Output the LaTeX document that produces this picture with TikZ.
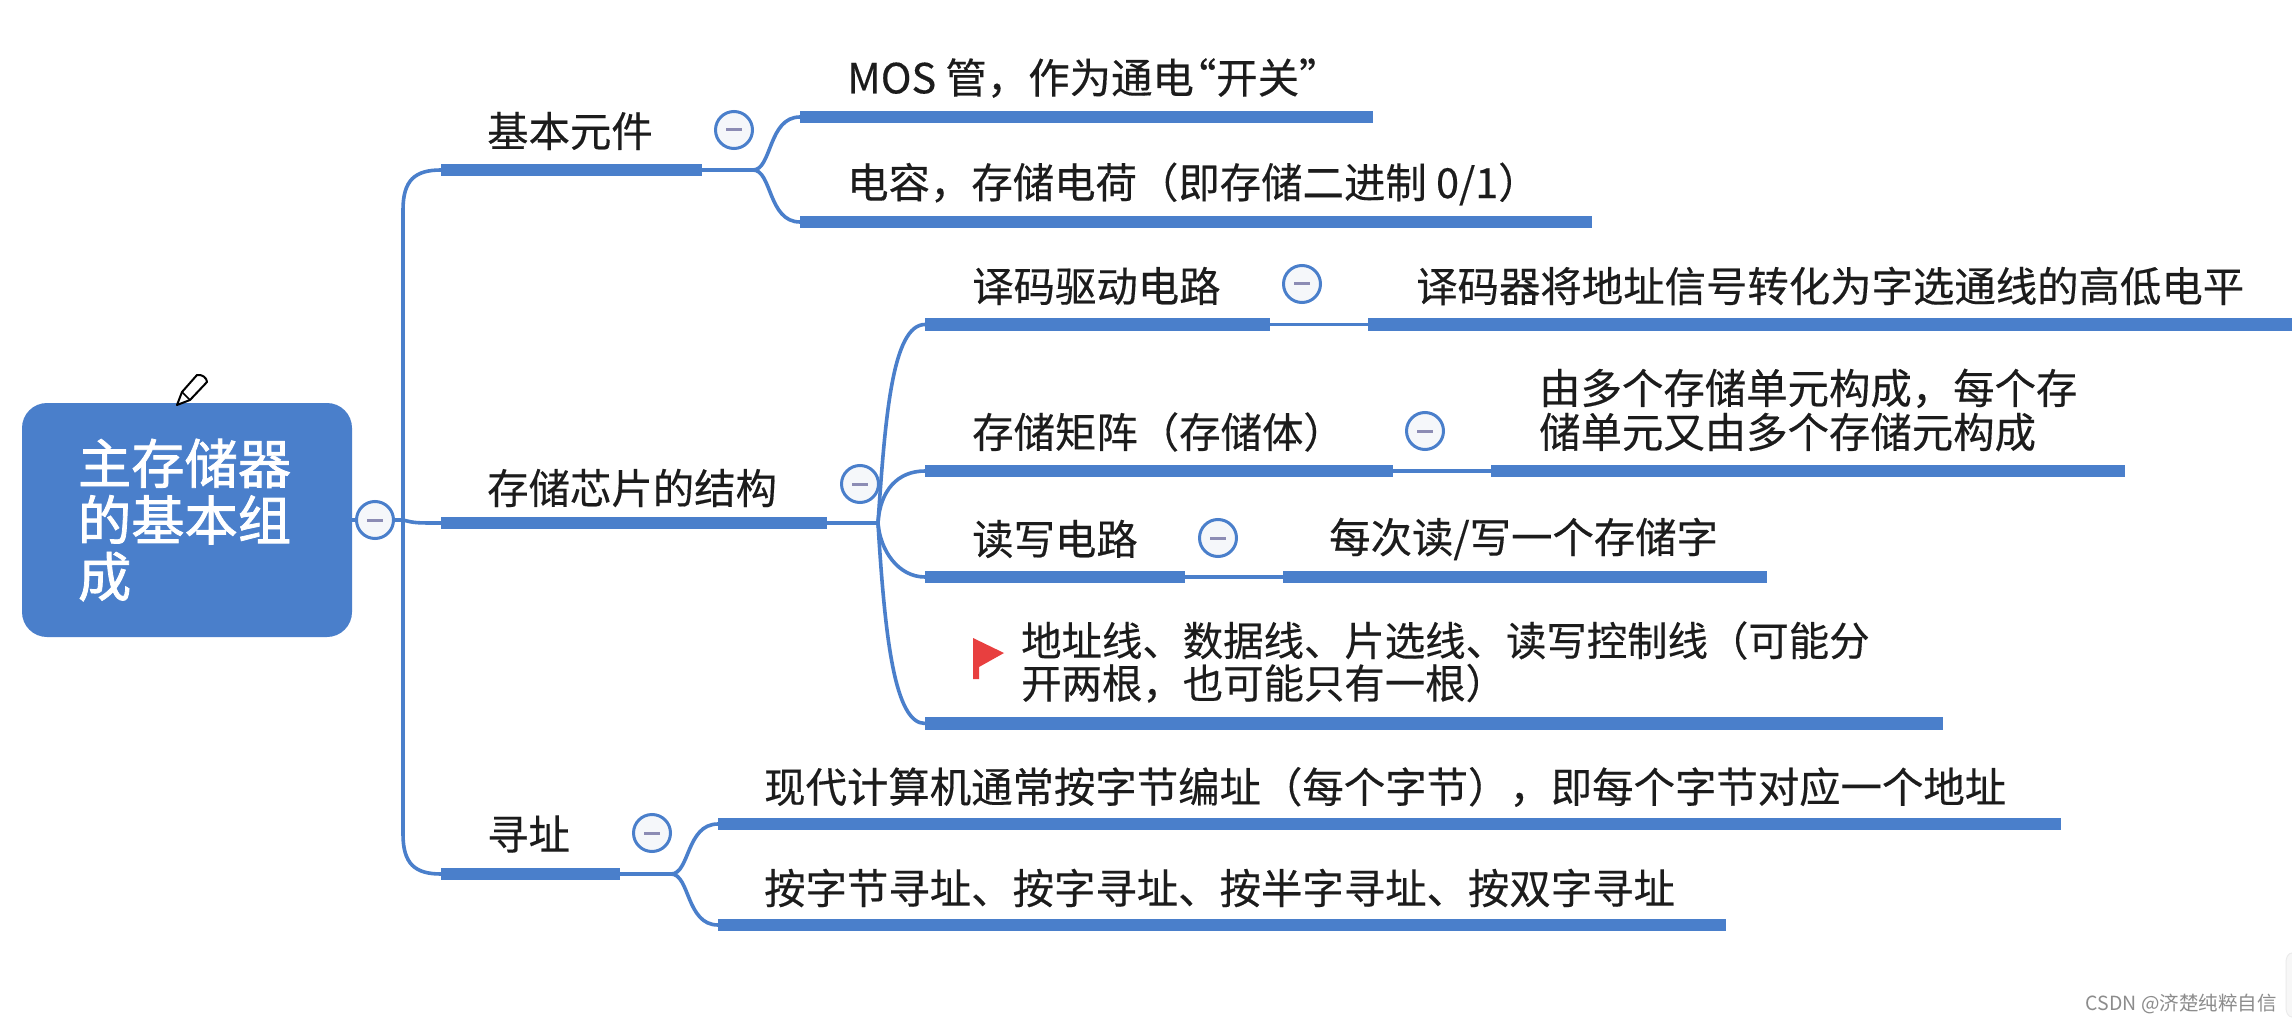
\documentclass[tikz,border=0pt]{standalone}
\usepackage{fontspec}
\newfontfamily\cjk[FakeBold=0.35]{Noto Sans CJK SC}
\newfontfamily\cjkroot[FakeBold=1.5]{Noto Sans CJK SC}
\newfontfamily\cjkmark{Noto Sans CJK SC}
\definecolor{mapblue}{HTML}{4A7FCB}
\definecolor{flagred}{HTML}{E83F3F}
\definecolor{txtblack}{HTML}{1C1C1C}
\definecolor{minusgray}{HTML}{8C8CB4}
\definecolor{togglefill}{HTML}{F5F7FA}
\tikzset{
  rootbox/.style={rectangle,rounded corners=25pt,fill=mapblue,minimum width=330pt,minimum height=234pt,inner sep=0pt,text=white,text width=218pt,align=left,font=\fontsize{53.3}{56.5}\selectfont\cjkroot},
  label/.style={anchor=west,inner sep=0pt,text=txtblack,align=left,font=\fontsize{41.4}{44}\selectfont\cjk},
  toggle/.style={circle,draw=mapblue,line width=3pt,fill=togglefill,minimum size=37pt,inner sep=0pt},
  minusmark/.style={line width=3pt,color=minusgray},
  barline/.style={line width=12.5pt,color=mapblue},
  link/.style={line width=3.6pt,color=mapblue}
}
\def\xjb{800}
\def\xjc{925}
\def\xjd{718}
\begin{document}
\begin{tikzpicture}[x=1pt,y=-1pt]
 \useasboundingbox[fill=white] (0,0) rectangle (2292,1024);

 % bars, name/start/end/height
 \foreach \n/\xa/\xb/\y in {A/441/702/170, B/441/827/523, C/441/620/874,
   AA/\xjb/1373/117, AB/\xjb/1592/222,
   BA/\xjc/1270/324.5, BAr/1368/2292/324.5,
   BB/\xjc/1393/471, BBr/1491/2125/471,
   BC/\xjc/1185/577, BCr/1283/1767/577,
   BD/\xjc/1943/723.5,
   CA/\xjd/2061/824, CB/\xjd/1726/925} {
   \coordinate (\n s) at (\xa,\y);
   \coordinate (\n e) at (\xb,\y);
   \draw[barline] (\n s) -- (\n e);
 }

 \coordinate (Trunk) at (403,520);
 \coordinate (Ja) at (753,170);
 \coordinate (Jb) at (878,523);
 \coordinate (Jc) at (671,874);

 \node[rootbox] (Root) at (187,520) {主存储器\\的基本组\\成};

 % first level
 \draw[link] (Root.east) -- (Trunk) .. controls (415,523) .. (Bs);
 \draw[link] (Trunk) -- (403,210) .. controls (403,180) and (415,170) .. (As);
 \draw[link] (Trunk) -- (403,834) .. controls (403,864) and (415,874) .. (Cs);

 % second level
 \draw[link] (Ae) -- (Ja) .. controls (772,170) and (768,117) .. (AAs);
 \draw[link] (Ja) .. controls (772,170) and (768,222) .. (ABs);
 \draw[link] (Be) -- (Jb) .. controls (885,420) and (892,324.5) .. (BAs);
 \draw[link] (Jb) .. controls (880,490) and (898,471) .. (BBs);
 \draw[link] (Jb) .. controls (880,550) and (898,577) .. (BCs);
 \draw[link] (Jb) .. controls (885,640) and (895,723.5) .. (BDs);
 \draw[link] (Ce) -- (Jc) .. controls (690,874) and (686,824) .. (CAs);
 \draw[link] (Jc) .. controls (690,874) and (686,925) .. (CBs);

 % third level
 \draw[link] (BAe) -- (BArs);
 \draw[link] (BBe) -- (BBrs);
 \draw[link] (BCe) -- (BCrs);

 \foreach \n/\x/\y in {TRoot/375/520, TA/734/130, TB/860/484, TC/652/833,
   TBA/1302/284, TBB/1425/431, TBC/1218/538} {
   \node[toggle] (\n) at (\x,\y) {};
   \draw[minusmark] ([xshift=-8]\n.center) -- ([xshift=8]\n.center);
 }

 \node[label] (LA) at (487,131) {基本元件};
 \node[label] (LB) at (487,488) {存储芯片的结构};
 \node[label] (LC) at (487,834) {寻址};

 \node[label] (LAA) at (847,78) {MOS 管，作为通电\hspace{-19pt}“开关”};
 \node[label] (LAB) at (847,184) {电容，存储电荷（即存储二进制 0/1）};

 \node[label] (LBA) at (972,286) {译码驱动电路};
 \node[label] (LBAr) at (1416,286) {译码器将地址信号转化为字选通线的高低电平};
 \node[label] (LBB) at (972,432) {存储矩阵（存储体）};
 \node[label] (LBBr) at (1539,410) {由多个存储单元构成，每个存\\储单元又由多个存储元构成};
 \node[label] (LBC) at (972,539) {读写电路};
 \node[label] (LBCr) at (1329,539) {每次读/写一个存储字};
 \node[label,font=\fontsize{40.4}{42.5}\selectfont\cjk] (LBD) at (1021,662) {地址线、数据线、片选线、读写控制线（可能分\\开两根，也可能只有一根）};

 \node[label] (LCA) at (764,787) {现代计算机通常按字节编址（每个字节），即每个字节对应一个地址};
 \node[label] (LCB) at (764,888) {按字节寻址、按字寻址、按半字寻址、按双字寻址};

 % flag
 \fill[flagred] (973,638) -- (1004,653) -- (979,667) -- (979,679) -- (973,679) -- cycle;

 % pencil
 \draw[line width=2pt,fill=white,line join=round] (177,405) -- (182,392) -- (197,375) .. controls (202,374) and (207,378) .. (207,382) -- (190,400) -- cycle;
 \draw[line width=1.5pt] (182,392) -- (190,400);

 % edge of the panel in the corner
 \draw[black!8,fill=black!3,line width=1pt] (2292,953) -- (2296,953) -- (2296,1017) -- (2292,1017) .. controls (2288,1017) and (2286,1012) .. (2286,1008) -- (2286,962) .. controls (2286,958) and (2288,953) .. (2292,953);

 \node[anchor=east,inner sep=0pt,text=black!45,font=\fontsize{19.5}{22}\selectfont\cjkmark] (Mark) at (2277,1004) {CSDN @济楚纯粹自信};
\end{tikzpicture}
\end{document}
